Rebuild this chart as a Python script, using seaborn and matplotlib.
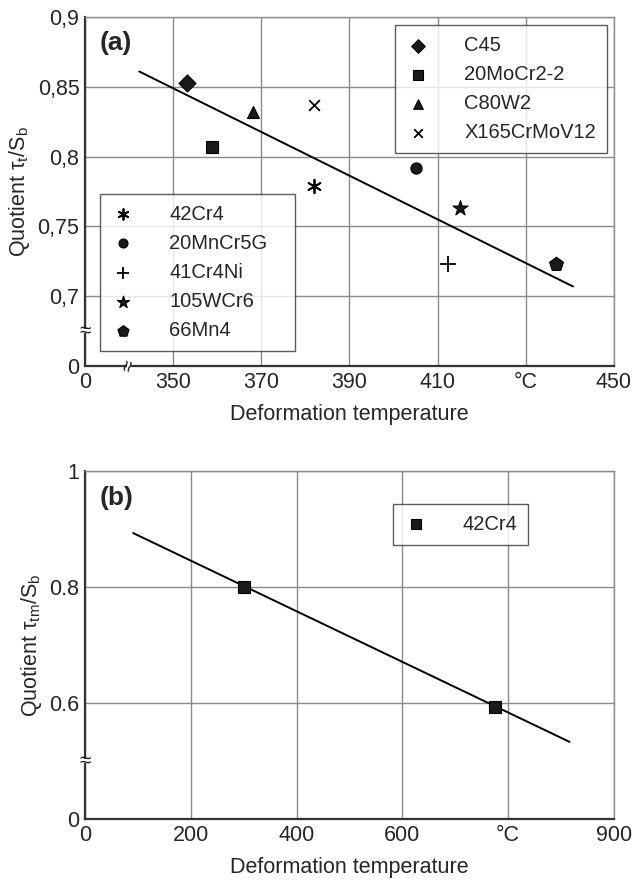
import numpy as np
import pandas as pd
import seaborn as sns
import matplotlib.pyplot as plt

sns.set_theme(style="white")
plt.rcParams['font.family'] = ['Liberation Sans', 'DejaVu Sans']
plt.rcParams['mathtext.fontset'] = 'custom'
plt.rcParams['mathtext.rm'] = 'Liberation Sans'

# panel (a) data
steels_a = ['C45', '20MoCr2-2', 'C80W2', 'X165CrMoV12',
            '42Cr4', '20MnCr5G', '41Cr4Ni', '105WCr6', '66Mn4']
temp_a = [353.2, 358.9, 368.0, 382.0, 382.0, 405.0, 412.3, 415.0, 436.8]
quot_a = [0.853, 0.807, 0.832, 0.837, 0.779, 0.792, 0.723, 0.763, 0.723]
markers_a = ['D', 's', '^', 'x', (6, 2, 0), 'o', '+', '*', 'p']
sizes_a = [75, 75, 75, 60, 95, 65, 130, 130, 110]
fit_a_x = [342.3, 440.7]
fit_a_y = [0.861, 0.707]

xticks_a = [330, 350, 370, 390, 410, 430, 450]
xlabels_a = ['0', '350', '370', '390', '410', '°C', '450']
yticks_a = [0.65, 0.7, 0.75, 0.8, 0.85, 0.9]
ylabels_a = ['0', '0,7', '0,75', '0,8', '0,85', '0,9']

# panel (b) data
temp_b = [300, 775]
quot_b = [0.8, 0.593]
fit_b_x = [91, 916]
fit_b_y = [0.893, 0.533]
xticks_b = [0, 200, 400, 600, 800, 1000]
xlabels_b = ['0', '200', '400', '600', '°C', '900']
yticks_b = [0.4, 0.6, 0.8, 1.0]
ylabels_b = ['0', '0.6', '0.8', '1']

df_a = pd.DataFrame({'steel': steels_a, 'temp': temp_a, 'quot': quot_a})
df_b = pd.DataFrame({'steel': ['42Cr4'] * 2, 'temp': temp_b, 'quot': quot_b})

fig = plt.figure(figsize=(6.32, 8.82), dpi=100)
ax1 = fig.add_axes([0.1345, 0.585, 0.837, 0.3957])
ax2 = fig.add_axes([0.1345, 0.0714, 0.837, 0.3946])

FS = 15.5
grid_c = '#8a8a8a'


def style_axes(ax, xt, xl, yt, yl):
    ax.set_xlim(xt[0], xt[-1])
    ax.set_ylim(yt[0], yt[-1])
    ax.set_xticks(xt)
    ax.set_xticklabels(xl, fontsize=FS)
    ax.set_yticks(yt)
    ax.set_yticklabels(yl, fontsize=FS)
    ax.tick_params(length=0, pad=4)
    ax.grid(True, color=grid_c, linewidth=1.0)
    for s in ['top', 'right']:
        ax.spines[s].set_color(grid_c)
        ax.spines[s].set_linewidth(1.0)
    for s in ['left', 'bottom']:
        ax.spines[s].set_color('#333333')
        ax.spines[s].set_linewidth(1.6)
    ax.set_xlabel('Deformation temperature', fontsize=FS, labelpad=8)


def ybreak(ax, y, gap):
    # cut the y axis and put a wavy break sign on it
    tr = ax.get_yaxis_transform()
    ax.plot([0, 0], [y - gap, y + gap], transform=tr, color='white', lw=4,
            clip_on=False, zorder=5, solid_capstyle='butt')
    ax.text(0, y, '≈', transform=tr, fontsize=15, ha='center', va='center',
            zorder=6, color='#222222')


def xbreak(ax, x, gap):
    tr = ax.get_xaxis_transform()
    ax.plot([x - gap, x + gap], [0, 0], transform=tr, color='white', lw=4,
            clip_on=False, zorder=5, solid_capstyle='butt')
    ax.text(x, 0, '≈', transform=tr, fontsize=15, ha='center', va='center',
            rotation=75, zorder=6, color='#222222')


# --- panel (a)
sns.lineplot(x=fit_a_x, y=fit_a_y, ax=ax1, color='black', linewidth=1.4, zorder=3)
for i, name in enumerate(steels_a):
    m = markers_a[i]
    sub = df_a[df_a['steel'] == name]
    if m in ['x', '+', (6, 2, 0)]:
        sns.scatterplot(data=sub, x='temp', y='quot', ax=ax1, marker=m, s=sizes_a[i],
                        color='black', linewidth=1.3, label=name, zorder=4)
    else:
        sns.scatterplot(data=sub, x='temp', y='quot', ax=ax1, marker=m, s=sizes_a[i],
                        color='#1a1a1a', edgecolor='black', linewidth=0.8, label=name, zorder=4)

style_axes(ax1, xticks_a, xlabels_a, yticks_a, ylabels_a)
ax1.set_ylabel(r'Quotient τ$_\mathregular{t}$/S$_\mathregular{b}$', fontsize=FS, labelpad=4)

handles, labels = ax1.get_legend_handles_labels()
leg_kw = dict(frameon=True, fancybox=False, fontsize=14.5, handletextpad=1.7,
              labelspacing=0.5, borderpad=0.55, borderaxespad=0, markerscale=0.8,
              handlelength=1.2, edgecolor='#333333')
leg1 = ax1.legend(handles[:4], labels[:4], loc='upper right',
                  bbox_to_anchor=(0.987, 0.977), **leg_kw)
leg1.get_frame().set_linewidth(1.0)
ax1.add_artist(leg1)
leg2 = ax1.legend(handles[4:], labels[4:], loc='lower left', mode='expand',
                  bbox_to_anchor=(0.028, 0.043, 0.369, 0.4), **leg_kw)
leg2.get_frame().set_linewidth(1.0)

ax1.text(0.028, 0.925, '(a)', transform=ax1.transAxes, fontsize=19,
         fontweight='bold', va='center', ha='left')
ybreak(ax1, 0.675, 0.0012)
xbreak(ax1, 340, 0.45)

# --- panel (b)
sns.lineplot(x=fit_b_x, y=fit_b_y, ax=ax2, color='black', linewidth=1.4, zorder=3)
sns.scatterplot(data=df_b, x='temp', y='quot', ax=ax2, marker='s', s=80,
                color='#1a1a1a', edgecolor='black', linewidth=0.8, label='42Cr4', zorder=4)
style_axes(ax2, xticks_b, xlabels_b, yticks_b, ylabels_b)
ax2.set_ylabel(r'Quotient τ$_\mathregular{tm}$/S$_\mathregular{b}$', fontsize=FS, labelpad=4)
leg3 = ax2.legend(loc='upper left', bbox_to_anchor=(0.582, 0.906), **leg_kw)
leg3.get_frame().set_linewidth(1.0)
ax2.text(0.028, 0.922, '(b)', transform=ax2.transAxes, fontsize=19,
         fontweight='bold', va='center', ha='left')
ybreak(ax2, 0.5, 0.004)

fig.savefig('out.png', dpi=100)
